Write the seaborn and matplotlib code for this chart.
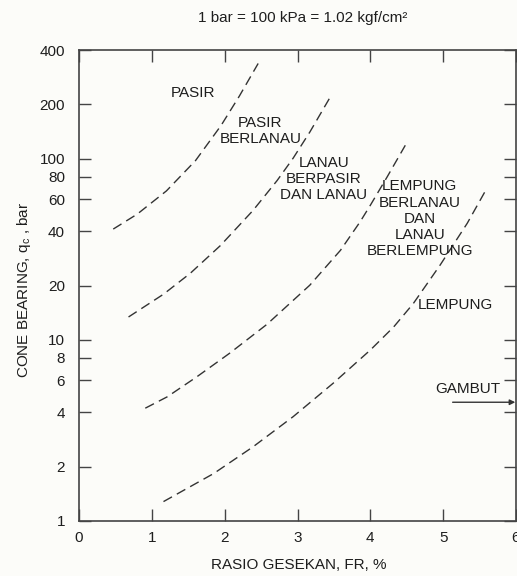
import numpy as np
import pandas as pd
import matplotlib
matplotlib.use("Agg")
import matplotlib.pyplot as plt
import seaborn as sns

# ---- data ----
# boundary 1 (PASIR | PASIR BERLANAU)
c1_fr = [0.47, 0.80, 1.20, 1.60, 1.95, 2.20, 2.46]
c1_qc = [41, 49.6, 66.6, 98, 153, 222, 337]
# boundary 2
c2_fr = [0.68, 1.16, 1.53, 1.94, 2.39, 2.72, 2.94, 3.17, 3.45]
c2_qc = [13.4, 17.9, 23.4, 33.2, 52, 76, 101, 141, 220]
# boundary 3
c3_fr = [0.91, 1.21, 1.62, 2.07, 2.58, 3.17, 3.59, 3.86, 4.00, 4.23, 4.48]
c3_qc = [4.2, 4.85, 6.27, 8.46, 12.2, 20.1, 31.3, 45, 55.5, 79.5, 119]
# boundary 4
c4_fr = [1.16, 1.85, 2.39, 2.94, 3.49, 4.00, 4.32, 4.59, 4.96, 5.33, 5.60]
c4_qc = [1.28, 1.83, 2.57, 3.77, 5.77, 8.8, 11.8, 15.9, 26, 44.1, 68.9]

zone_labels = ["PASIR", "PASIR\nBERLANAU", "LANAU\nBERPASIR\nDAN LANAU",
               "LEMPUNG\nBERLANAU\nDAN\nLANAU\nBERLEMPUNG", "LEMPUNG", "GAMBUT"]
zone_fr = [1.56, 2.49, 3.36, 4.68, 5.17, 5.34]
zone_qc = [232, 143, 77.5, 46.7, 15.6, 5.34]

gambut_arrow_fr = [5.13, 5.99]
gambut_arrow_qc = 4.53

x_ticks = [0, 1, 2, 3, 4, 5, 6]
y_ticks = [1, 2, 4, 6, 8, 10, 20, 40, 60, 80, 100, 200, 400]

title = "1 bar = 100 kPa = 1.02 kgf/cm\u00b2"
xlabel = "RASIO GESEKAN, FR, %"
ylabel = r"CONE BEARING, q$_{\mathrm{c}}$ , bar"

# ---- build long table ----
frames = []
for name, fr, qc in [("c1", c1_fr, c1_qc), ("c2", c2_fr, c2_qc),
                     ("c3", c3_fr, c3_qc), ("c4", c4_fr, c4_qc)]:
    frames.append(pd.DataFrame({"curve": name, "FR": fr, "qc": qc}))
df = pd.concat(frames, ignore_index=True)

sns.set_theme(style="ticks")
plt.rcParams["font.family"] = ["Liberation Sans", "DejaVu Sans"]
plt.rcParams["mathtext.fontset"] = "custom"
plt.rcParams["mathtext.rm"] = "Liberation Sans"
plt.rcParams["mathtext.it"] = "Liberation Sans"

txt = "#1e1e1e"
bg = "#fcfcf9"

fig = plt.figure(figsize=(5.17, 5.76), dpi=100, facecolor=bg)
ax = fig.add_axes([79 / 517, 1 - 521 / 576, 437 / 517, 471 / 576])
ax.set_facecolor(bg)

for name, sub in df.groupby("curve"):
    sns.lineplot(data=sub, x="FR", y="qc", ax=ax, color="#333333",
                 linewidth=1.0, dashes=False, sort=True, estimator=None)
for line in ax.get_lines():
    line.set_dashes((7, 4))

ax.set_yscale("log")
ax.set_xlim(0, 6)
ax.set_ylim(1, 400)
ax.set_xticks(x_ticks)
ax.set_xticklabels([str(v) for v in x_ticks])
ax.set_yticks(y_ticks)
ax.set_yticklabels([str(v) for v in y_ticks])
ax.yaxis.set_minor_locator(matplotlib.ticker.NullLocator())
ax.xaxis.set_minor_locator(matplotlib.ticker.NullLocator())

for s in ax.spines.values():
    s.set_visible(True)
    s.set_color("#444444")
    s.set_linewidth(1.2)

ax.tick_params(axis="both", which="major", direction="in", length=8.5,
               width=1.0, color="#444444", labelsize=11, labelcolor=txt,
               top=True, right=True)
ax.tick_params(axis="y", pad=10)
ax.tick_params(axis="x", pad=7)

ax.set_xlabel(xlabel, fontsize=11, color=txt)
ax.set_ylabel(ylabel, fontsize=11, color=txt)
ax.xaxis.set_label_coords(0.504, -0.079)
ax.yaxis.set_label_coords(-0.106, 0.49)

for lab, x, y in zip(zone_labels, zone_fr, zone_qc):
    ax.text(x, y, lab, ha="center", va="center", fontsize=11, color=txt,
            linespacing=1.2)

ax.annotate("", xy=(gambut_arrow_fr[1], gambut_arrow_qc),
            xytext=(gambut_arrow_fr[0], gambut_arrow_qc),
            arrowprops=dict(arrowstyle="-|>", lw=1.0, color="#333333",
                            mutation_scale=8, shrinkA=0, shrinkB=0))

fig.text(303 / 517, 1 - 17.7 / 576, title, ha="center", va="center",
         fontsize=11, color=txt)

fig.savefig("out.png", dpi=100, facecolor=bg)
